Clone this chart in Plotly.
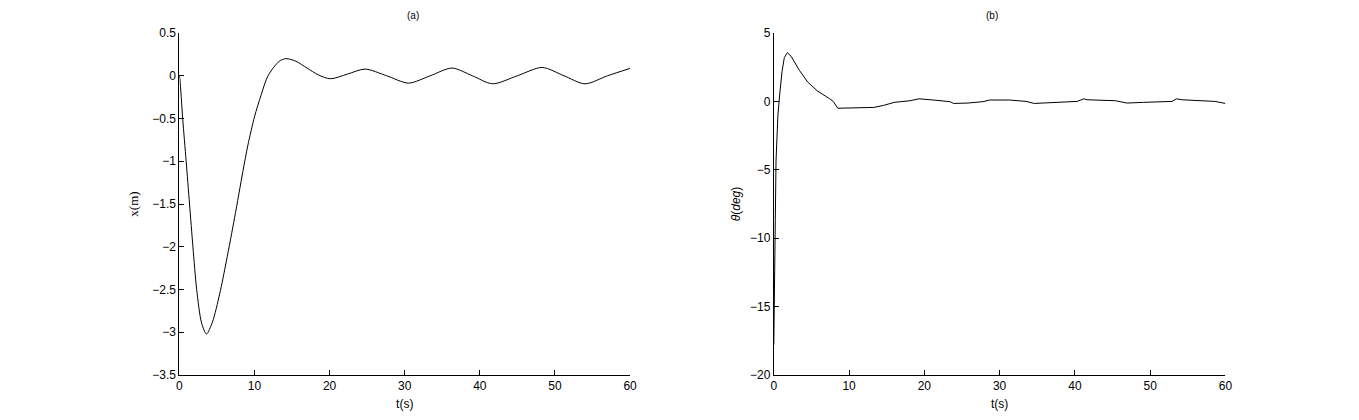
import plotly.graph_objects as go

# Panel (a): cart position x(m) vs time t(s)
t_a = [0, 0.08, 0.44, 0.9, 1.35, 1.8, 2.3, 2.95, 3.6, 4.4, 5.37, 6.25, 7.35, 8.45, 9.1,
       10.0, 10.9, 11.8, 13.3, 14.2, 15.5, 17.0, 18.5, 20.1, 22.4, 24.7, 27.6, 30.5,
       33.4, 36.3, 39.0, 41.7, 45.0, 48.3, 51.2, 54.0, 57.0, 60.0]
x_a = [0, -0.05, -0.5, -1.0, -1.5, -2.0, -2.5, -2.89, -3.02, -2.88, -2.55, -2.17, -1.66,
       -1.12, -0.82, -0.48, -0.22, 0.0, 0.17, 0.2, 0.17, 0.09, 0.01, -0.035, 0.02, 0.078,
       0.0, -0.086, 0.0, 0.09, 0.0, -0.094, 0.0, 0.097, 0.0, -0.094, 0.0, 0.086]

# Panel (b): pendulum angle theta(deg) vs time t(s)
t_b = [0, 0.05, 0.2, 0.3, 0.55, 0.8, 1.1, 1.4, 1.8, 2.3, 2.8, 3.4, 4.5, 5.8, 7.4, 7.9,
       8.5, 10.9, 13.3, 14.6, 16.0, 18.1, 19.3, 21.2, 23.4, 23.9, 25.8, 27.8, 28.7, 31.3,
       33.5, 34.6, 36.6, 40.3, 41.2, 41.6, 45.4, 46.9, 49.1, 51.3, 52.9, 53.5, 54.2,
       58.6, 60.0]
th_b = [-17.8, -13.6, -8.7, -4.3, -1.0, 0.6, 2.2, 3.2, 3.56, 3.3, 2.8, 2.27, 1.42, 0.76,
        0.2, 0.0, -0.5, -0.49, -0.44, -0.29, -0.07, 0.05, 0.19, 0.10, -0.02, -0.15, -0.12,
        -0.02, 0.10, 0.10, 0.0, -0.15, -0.10, 0.0, 0.19, 0.12, 0.05, -0.12, -0.07, 0.0,
        0.0, 0.19, 0.12, 0.0, -0.15]

x_ticks = [0, 10, 20, 30, 40, 50, 60]
ya_ticks = [0.5, 0, -0.5, -1, -1.5, -2, -2.5, -3, -3.5]
yb_ticks = [5, 0, -5, -10, -15, -20]

fig = go.Figure()
fig.add_trace(go.Scatter(x=t_a, y=x_a, mode="lines", line=dict(color="black", width=1, shape="spline", smoothing=0.8),
                         xaxis="x", yaxis="y", showlegend=False))
fig.add_trace(go.Scatter(x=t_b, y=th_b, mode="lines", line=dict(color="black", width=1),
                         xaxis="x2", yaxis="y2", showlegend=False))

W, H = 1359, 420
common_x = dict(range=[0, 60], tickvals=x_ticks, ticks="inside", ticklen=5, tickcolor="black",
                showline=True, linecolor="black", linewidth=1, showgrid=False, zeroline=False,
                mirror=False, tickfont=dict(size=12, color="black"))
common_y = dict(ticks="inside", ticklen=5, tickcolor="black", showline=True, linecolor="black",
                linewidth=1, showgrid=False, zeroline=False, mirror=False,
                tickfont=dict(size=12, color="black"))

fig.update_layout(
    width=W, height=H,
    paper_bgcolor="white", plot_bgcolor="white",
    font=dict(family="Liberation Sans, Arial, sans-serif", color="black"),
    margin=dict(l=0, r=0, t=33, b=45),
    xaxis=dict(domain=[177.7 / W, 631.7 / W], anchor="y",
               title=dict(text="t(s)", font=dict(size=12), standoff=7), **common_x),
    yaxis=dict(domain=[0, 1], anchor="x", range=[-3.5, 0.5], tickvals=ya_ticks,
               title=dict(text="x(m)", font=dict(size=13, family="Liberation Serif, Times New Roman, serif"), standoff=10),
               **common_y),
    xaxis2=dict(domain=[776.5 / W, 1231.5 / W], anchor="y2",
                title=dict(text="t(s)", font=dict(size=12), standoff=7), **common_x),
    yaxis2=dict(domain=[0, 1], anchor="x2", range=[-20, 5], tickvals=yb_ticks,
                title=dict(text="<i>θ</i>(<i>deg</i>)", font=dict(size=12), standoff=6),
                **common_y),
    annotations=[
        dict(text="(a)", x=(177.7 + 631.7) / 2 / W, y=1, xref="paper", yref="paper",
             yanchor="bottom", yshift=10, showarrow=False, font=dict(size=10)),
        dict(text="(b)", x=(776.5 + 1231.5) / 2 / W, y=1, xref="paper", yref="paper",
             yanchor="bottom", yshift=10, showarrow=False, font=dict(size=10)),
    ],
)

fig.write_html("out.html", config={"displayModeBar": False},
               post_script="document.body.style.margin='0';")
